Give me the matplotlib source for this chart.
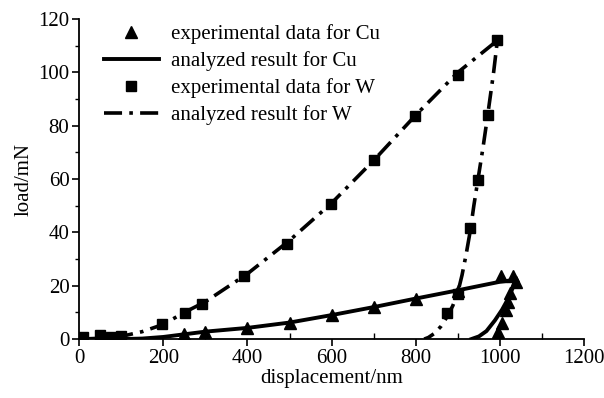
import numpy as np
import matplotlib
matplotlib.use("Agg")
import matplotlib.pyplot as plt
from matplotlib.ticker import MultipleLocator

plt.rcParams['font.family'] = ['Liberation Serif', 'DejaVu Serif']
plt.rcParams['font.size'] = 15

# experimental data for Cu (loading + unloading)
cu_exp_x = [250, 300, 400, 500, 600, 700, 800, 900, 1002, 1032,
            1038, 1024, 1020, 1014, 1004, 996]
cu_exp_y = [2.0, 2.7, 4.0, 6.1, 9.0, 11.9, 15.2, 18.2, 23.5, 23.6,
            21.4, 17.1, 14.0, 10.8, 5.9, 2.7]

# analyzed result for Cu
cu_fit_x = [0, 100, 150, 200, 250, 300, 400, 500, 600, 700, 800, 900, 1000, 1036,
            1030, 1019, 1005, 988, 968, 950, 932]
cu_fit_y = [0, 0, 0.2, 0.8, 1.8, 2.8, 4.2, 6.2, 9.0, 12.0, 15.2, 18.3, 21.5, 22.2,
            19.0, 15.0, 11.0, 7.0, 3.0, 1.0, 0]

# experimental data for W (loading + unloading)
w_exp_x = [10, 50, 75, 100, 197, 252, 291, 391, 495, 598, 701, 799, 900, 994,
           971, 948, 930, 900, 875]
w_exp_y = [0.9, 1.4, 0.6, 1.3, 5.6, 9.6, 13.1, 23.6, 35.5, 50.6, 67.0, 83.6, 98.9, 112.0,
           84.0, 59.6, 41.5, 17.0, 9.6]

# analyzed result for W
w_fit_x = [0, 50, 100, 150, 200, 250, 300, 400, 500, 600, 700, 800, 900, 994,
           985, 971, 960, 948, 938, 930, 920, 910, 900, 888, 875, 860, 845, 830, 820]
w_fit_y = [0, 0.3, 1.0, 2.8, 5.5, 10.0, 14.0, 24.5, 37.0, 51.0, 67.0, 84.0, 100.0, 112.0,
           100.0, 84.0, 72.0, 60.0, 50.0, 41.0, 32.0, 24.0, 17.5, 12.5, 8.5, 4.8, 2.2, 0.6, 0]

fig = plt.figure(figsize=(6.04, 3.98), dpi=100)
ax = fig.add_axes([0.131, 0.148, 0.836, 0.804])

ax.plot(cu_exp_x, cu_exp_y, '^', color='black', markersize=8.5, linestyle='none',
        label='experimental data for Cu')
ax.plot(cu_fit_x, cu_fit_y, '-', color='black', lw=2.8, label='analyzed result for Cu')
ax.plot(w_exp_x, w_exp_y, 's', color='black', markersize=6.5, linestyle='none',
        label='experimental data for W')
ax.plot(w_fit_x, w_fit_y, color='black', lw=2.6, dashes=(5, 2, 1, 2),
        label='analyzed result for W')

ax.set_xlim(0, 1200)
ax.set_ylim(0, 120)
ax.xaxis.set_major_locator(MultipleLocator(200))
ax.xaxis.set_minor_locator(MultipleLocator(100))
ax.yaxis.set_major_locator(MultipleLocator(20))
ax.yaxis.set_minor_locator(MultipleLocator(10))
ax.tick_params(which='major', direction='out', length=5, width=1.2, labelsize=15, pad=2)
ax.tick_params(axis='x', which='minor', direction='in', length=4, width=1.0)
ax.tick_params(axis='y', which='minor', direction='out', length=3, width=1.0)

ax.spines['top'].set_visible(False)
ax.spines['right'].set_visible(False)
ax.spines['left'].set_linewidth(1.3)
ax.spines['bottom'].set_linewidth(1.3)

ax.set_xlabel('displacement/nm', fontsize=15, labelpad=1)
ax.set_ylabel('load/mN', fontsize=15, labelpad=3)

ax.legend(loc='upper left', bbox_to_anchor=(0.05, 0.985), frameon=False, numpoints=1,
          handlelength=2.6, handletextpad=0.6, labelspacing=0.35, borderpad=0,
          borderaxespad=0, fontsize=15)

fig.savefig('out.png', dpi=100)
